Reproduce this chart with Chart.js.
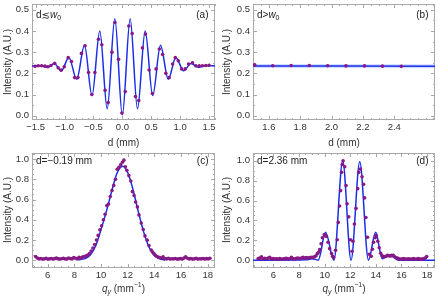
<!DOCTYPE html>
<html>
<head>
<meta charset="utf-8">
<script src="https://cdn.jsdelivr.net/npm/chart.js@4.4.1/dist/chart.umd.min.js"></script>
<style>
  html, body { margin: 0; padding: 0; background: #fff; }
  #wrap { position: relative; width: 439px; height: 299px; }
  canvas { position: absolute; }
</style>
</head>
<body>
<div id="wrap">
  <canvas id="panelA" width="219" height="149" style="left:0;top:0"></canvas>
  <canvas id="panelB" width="220" height="149" style="left:219px;top:0"></canvas>
  <canvas id="panelC" width="219" height="150" style="left:0;top:149px"></canvas>
  <canvas id="panelD" width="220" height="150" style="left:219px;top:149px"></canvas>
</div>
<script>
// --- (a) d <= w0 : intensidad frente a d ---
const aPtsD = [-1.51,-1.454,-1.396,-1.339,-1.29,-1.236,-1.17,-1.11,-1.06,-1.005,-0.937,-0.88,-0.825,-0.768,-0.708,-0.645,-0.585,-0.528,-0.475,-0.413,-0.355,-0.298,-0.245,-0.18,-0.128,-0.065,-0.008,0.05,0.112,0.17,0.227,0.284,0.348,0.399,0.463,0.52,0.583,0.64,0.697,0.752,0.81,0.87,0.916,0.967,1.025,1.088,1.145,1.214,1.271,1.33,1.385,1.444,1.5];
const aPtsI = [0.233,0.236,0.236,0.234,0.231,0.237,0.247,0.226,0.215,0.231,0.274,0.256,0.18,0.18,0.294,0.33,0.204,0.1,0.204,0.361,0.335,0.12,0.062,0.30,0.44,0.266,0.013,0.114,0.423,0.388,0.091,0.072,0.32,0.385,0.216,0.105,0.221,0.315,0.289,0.2,0.18,0.244,0.274,0.259,0.221,0.221,0.244,0.25,0.236,0.235,0.236,0.237,0.238];
const aFitD = [-1.563,-1.42,-1.29,-1.18,-1.055,-0.925,-0.79,-0.655,-0.525,-0.39,-0.262,-0.13,0,0.135,0.262,0.395,0.525,0.66,0.795,0.925,1.06,1.19,1.31,1.44,1.603];
const aFitI = [0.235,0.236,0.229,0.246,0.212,0.275,0.172,0.332,0.095,0.400,0.033,0.458,0.003,0.458,0.033,0.400,0.095,0.332,0.172,0.275,0.212,0.246,0.229,0.236,0.235];

// --- (b) d > w0 ---
const bPtsD = [1.51,1.625,1.742,1.858,1.975,2.092,2.21,2.325,2.445];
const bPtsI = [0.240,0.236,0.237,0.237,0.236,0.235,0.235,0.234,0.233];
const bFitD = [1.499,2.66];
const bFitI = [0.235,0.234];

// --- (c) d = -0.19 mm : intensidad frente a q_y ---
const cPtsQ = [5.10,5.23,5.36,5.49,5.62,5.75,5.88,6.01,6.14,6.27,6.40,6.53,6.66,6.79,6.92,7.05,7.18,7.31,7.44,7.57,7.70,7.83,7.96,8.09,8.22,8.35,8.48,8.61,8.74,8.87,9.0,9.14,9.27,9.40,9.53,9.66,9.79,9.92,10.05,10.18,10.31,10.44,10.57,10.70,10.83,10.96,11.09,11.22,11.35,11.48,11.61,11.72,11.83,11.94,12.09,12.24,12.36,12.48,12.6,12.73,12.85,13.02,13.17,13.3,13.47,13.6,13.77,13.87,13.97,14.07,14.17,14.29,14.41,14.53,14.66,14.79,14.92,15.05,15.18,15.31,15.44,15.57,15.70,15.83,15.96,16.09,16.22,16.35,16.48,16.61,16.74,16.87,17.00,17.13,17.26,17.39,17.52,17.65,17.78,17.91,18.04,18.17];
const cPtsI = [0.035,0.02,0.012,0.015,0.01,0.012,0.018,0.01,0.012,0.016,0.01,0.015,0.02,0.012,0.01,0.014,0.018,0.012,0.01,0.02,0.015,0.012,0.025,0.018,0.012,0.028,0.02,0.03,0.035,0.04,0.05,0.064,0.09,0.12,0.155,0.20,0.245,0.30,0.34,0.40,0.455,0.54,0.555,0.63,0.69,0.74,0.80,0.90,0.92,0.945,0.97,0.99,0.925,0.889,0.837,0.783,0.678,0.64,0.575,0.527,0.448,0.367,0.304,0.24,0.198,0.144,0.10,0.08,0.064,0.05,0.038,0.03,0.026,0.02,0.032,0.015,0.012,0.018,0.01,0.014,0.012,0.016,0.01,0.012,0.015,0.01,0.02,0.032,0.018,0.012,0.015,0.01,0.012,0.018,0.01,0.014,0.012,0.016,0.01,0.015,0.012,0.018];
const cFitQ = [8.3,8.8,9.2,9.6,10.0,10.4,10.8,11.2,11.62,12.0,12.4,12.8,13.2,13.6,14.0,14.4,14.8];
const cFitI = [0.003,0.015,0.05,0.14,0.30,0.48,0.68,0.86,0.93,0.87,0.70,0.48,0.28,0.13,0.045,0.012,0.002];

// --- (d) d = 2.36 mm ---
const dPtsQ = [4.80,4.93,5.06,5.19,5.32,5.45,5.58,5.71,5.84,5.97,6.10,6.23,6.36,6.49,6.62,6.75,6.88,7.01,7.14,7.27,7.40,7.53,7.66,7.79,7.92,8.05,8.18,8.31,8.44,8.57,8.70,8.83,8.96,9.09,9.22,9.32,9.43,9.52,9.61,9.72,9.82,9.97,10.05,10.13,10.26,10.39,10.54,10.62,10.7,10.85,10.98,11.06,11.16,11.24,11.32,11.37,11.44,11.57,11.67,11.75,11.88,12.01,12.14,12.21,12.32,12.45,12.58,12.66,12.79,12.92,13.04,13.12,13.22,13.35,13.48,13.64,13.73,13.82,13.95,14.03,14.15,14.26,14.38,14.5,14.6,14.7,14.8,14.9,15.0,15.1,15.23,15.36,15.46,15.56,15.66,15.76,15.89,16.02,16.15,16.28,16.41,16.54,16.67,16.80,16.93,17.06,17.19,17.32,17.45,17.58,17.71,17.84,17.97];
const dPtsI = [0.015,0.02,0.035,0.01,0.018,0.012,0.02,0.03,0.012,0.015,0.01,0.014,0.012,0.016,0.01,0.012,0.015,0.018,0.012,0.014,0.028,0.015,0.012,0.018,0.02,0.015,0.022,0.03,0.02,0.025,0.022,0.025,0.028,0.03,0.035,0.045,0.066,0.08,0.106,0.165,0.225,0.257,0.25,0.238,0.181,0.116,0.066,0.04,0.027,0.099,0.205,0.38,0.545,0.70,0.884,0.963,1.0,0.94,0.752,0.567,0.436,0.205,0.089,0.191,0.363,0.521,0.72,0.884,0.917,0.84,0.765,0.627,0.429,0.231,0.059,0.04,0.11,0.181,0.225,0.25,0.19,0.125,0.07,0.043,0.035,0.036,0.04,0.05,0.045,0.043,0.048,0.05,0.035,0.026,0.02,0.016,0.012,0.01,0.015,0.012,0.01,0.014,0.012,0.01,0.016,0.012,0.01,0.015,0.012,0.01,0.014,0.02,0.036];
const dFitQ = [4.4,8.6,9.0,9.5,10.07,10.72,11.41,12.06,12.74,13.42,13.98,14.5,14.95,15.35,15.75,18.62];
const dFitI = [0.0,0.005,0.015,0.0,0.28,0.0,1.0,0.0,0.99,0.0,0.28,0.015,0.04,0.035,0.0,0.0];

// --- Marcas de ejes ---
const ticksD_a = [-1.5,-1.0,-0.5,0,0.5,1.0,1.5];
const ticksD_b = [1.6,1.8,2.0,2.2,2.4];
const ticksQ = [6,8,10,12,14,16,18];
const ticksI_ab = [0,0.1,0.2,0.3,0.4,0.5];
const ticksI_cd = [0,0.2,0.4,0.6,0.8,1.0];

const FUENTE = "'Liberation Sans', 'DejaVu Sans', Arial, sans-serif";
const COLOR_TEXTO = '#333';
const COLOR_PUNTO = 'rgb(135,25,135)';
const COLOR_AJUSTE = 'rgb(25,45,235)';

function fuenteDe(estilo) {
    const chica = estilo.includes('sub') || estilo === 'sup';
    const italica = estilo.startsWith('i');
    return (italica ? 'italic ' : '') + (chica ? '7px ' : '10px ') + FUENTE;
}

// texto con partes en cursiva / subindice / superindice
function dibujarTexto(ctx, partes, x, y, align) {
    const anchos = partes.map(([t, e]) => { ctx.font = fuenteDe(e); return ctx.measureText(t).width; });
    const total = anchos.reduce((s, w) => s + w, 0);
    let cx = align === 'center' ? x - total / 2 : (align === 'right' ? x - total : x);
    ctx.textAlign = 'left';
    ctx.textBaseline = 'middle';
    partes.forEach(([t, e], i) => {
        ctx.font = fuenteDe(e);
        let dy = 0;
        if (e.includes('sub')) dy = 3;
        if (e === 'sup') dy = -3.5;
        ctx.fillText(t, cx, y + dy);
        cx += anchos[i];
    });
}

function formatear(v, dec) {
    return Number(v).toFixed(dec).replace('-', '\u2212');
}

function marcasMenores(min, max, paso) {
    const lista = [];
    for (let k = Math.ceil(min / paso - 1e-9); k * paso <= max + 1e-9; k++) lista.push(k * paso);
    return lista;
}

function crearPanel(cfg) {
    const canvas = document.getElementById(cfg.id);
    const puntos = cfg.ptsX.map((v, i) => ({ x: v, y: cfg.ptsY[i] }));
    const ajuste = cfg.fitX.map((v, i) => ({ x: v, y: cfg.fitY[i] }));

    const datasets = [
        { data: puntos, showLine: false, pointRadius: 1.8, pointBackgroundColor: COLOR_PUNTO, pointBorderWidth: 0, order: 0 },
        { data: ajuste, borderColor: COLOR_AJUSTE, borderWidth: 1.5, pointRadius: 0, cubicInterpolationMode: 'monotone', order: 1 }
    ];
    if (cfg.banda) {
        datasets.push({ data: ajuste, borderColor: 'rgba(150,175,255,0.45)', borderWidth: 4, pointRadius: 0, order: 2 });
    }

    const area = cfg.area;
    const fuenteTicks = { family: FUENTE, size: 9.5 };

    // marco gris con marcas hacia adentro en los cuatro lados
    const marco = {
        id: 'marco_' + cfg.id,
        beforeDatasetsDraw(chart) {
            const { ctx, chartArea: a, scales: { x, y } } = chart;
            ctx.save();
            ctx.strokeStyle = '#a9a9a9';
            ctx.lineWidth = 1;
            ctx.strokeRect(a.left + 0.5, a.top + 0.5, a.right - a.left - 1, a.bottom - a.top - 1);
            ctx.beginPath();
            const marcaX = (v, largo) => {
                const px = Math.round(x.getPixelForValue(v)) + 0.5;
                ctx.moveTo(px, a.bottom); ctx.lineTo(px, a.bottom - largo);
                ctx.moveTo(px, a.top); ctx.lineTo(px, a.top + largo);
            };
            const marcaY = (v, largo) => {
                const py = Math.round(y.getPixelForValue(v)) + 0.5;
                ctx.moveTo(a.left, py); ctx.lineTo(a.left + largo, py);
                ctx.moveTo(a.right, py); ctx.lineTo(a.right - largo, py);
            };
            marcasMenores(x.min, x.max, cfg.xMenor).forEach(v => marcaX(v, 2));
            marcasMenores(y.min, y.max, cfg.yMenor).forEach(v => marcaY(v, 2));
            cfg.xTicks.forEach(v => marcaX(v, 4));
            cfg.yTicks.forEach(v => marcaY(v, 4));
            ctx.stroke();
            ctx.restore();
        },
        afterDraw(chart) {
            const { ctx, chartArea: a } = chart;
            ctx.save();
            ctx.fillStyle = COLOR_TEXTO;
            // titulo eje y
            ctx.save();
            ctx.translate(8, cfg.yTituloY);
            ctx.rotate(-Math.PI / 2);
            dibujarTexto(ctx, [['Intensity (A.U.)', '']], 0, 0, 'center');
            ctx.restore();
            // titulo eje x
            dibujarTexto(ctx, cfg.xTitulo, (a.left + a.right) / 2, cfg.xTituloY, 'center');
            // etiquetas del panel
            ctx.fillStyle = '#222';
            dibujarTexto(ctx, cfg.etiqueta, a.left + 4, cfg.etiquetaY, 'left');
            dibujarTexto(ctx, [[cfg.letra, '']], a.right - 6.5, cfg.etiquetaY, 'right');
            ctx.restore();
        }
    };

    return new Chart(canvas.getContext('2d'), {
        type: 'line',
        data: { datasets },
        options: {
            responsive: false,
            animation: false,
            events: [],
            layout: { padding: { top: area.top, right: canvas.width - area.right, left: 0, bottom: 0 } },
            plugins: { legend: { display: false }, tooltip: { enabled: false } },
            scales: {
                x: {
                    type: 'linear', min: cfg.xMin, max: cfg.xMax, bounds: 'data',
                    grid: { display: false, drawTicks: false }, border: { display: false },
                    afterBuildTicks: s => { s.ticks = cfg.xTicks.map(v => ({ value: v })); },
                    afterFit: s => { s.height = canvas.height - area.bottom; s.paddingLeft = 0; s.paddingRight = 0; },
                    ticks: { autoSkip: false, maxRotation: 0, minRotation: 0, padding: 2, color: COLOR_TEXTO, font: fuenteTicks,
                             callback: v => formatear(v, cfg.xDec) }
                },
                y: {
                    type: 'linear', min: cfg.yMin, max: cfg.yMax, bounds: 'data',
                    grid: { display: false, drawTicks: false }, border: { display: false },
                    afterBuildTicks: s => { s.ticks = cfg.yTicks.map(v => ({ value: v })); },
                    afterFit: s => { s.width = area.left; s.paddingTop = 0; s.paddingBottom = 0; },
                    ticks: { autoSkip: false, padding: 3, color: COLOR_TEXTO, font: fuenteTicks,
                             callback: v => formatear(v, 1) }
                }
            }
        },
        plugins: [marco]
    });
}

const tituloD = [['d (mm)', '']];
const tituloQ = [['q', 'i'], ['y', 'isub'], [' (mm', ''], ['\u22121', 'sup'], [')', '']];

crearPanel({
    id: 'panelA', ptsX: aPtsD, ptsY: aPtsI, fitX: aFitD, fitY: aFitI,
    area: { left: 32, top: 1.5, right: 216, bottom: 120 },
    xMin: -1.563, xMax: 1.603, yMin: -0.02, yMax: 0.527,
    xTicks: ticksD_a, yTicks: ticksI_ab, xMenor: 0.1, yMenor: 0.05, xDec: 1,
    xTitulo: tituloD, xTituloY: 143, yTituloY: 62,
    etiqueta: [['d\u2272', ''], ['w', 'i'], ['0', 'sub']], letra: '(a)', etiquetaY: 15
});

crearPanel({
    id: 'panelB', ptsX: bPtsD, ptsY: bPtsI, fitX: bFitD, fitY: bFitI, banda: true,
    area: { left: 34, top: 1.5, right: 218, bottom: 120 },
    xMin: 1.499, xMax: 2.66, yMin: -0.02, yMax: 0.527,
    xTicks: ticksD_b, yTicks: ticksI_ab, xMenor: 0.05, yMenor: 0.05, xDec: 1,
    xTitulo: tituloD, xTituloY: 143, yTituloY: 62,
    etiqueta: [['d>', ''], ['w', 'i'], ['0', 'sub']], letra: '(b)', etiquetaY: 15
});

crearPanel({
    id: 'panelC', ptsX: cPtsQ, ptsY: cPtsI, fitX: cFitQ, fitY: cFitI,
    area: { left: 32, top: 2, right: 216.5, bottom: 119 },
    xMin: 4.83, xMax: 18.55, yMin: -0.078, yMax: 1.061,
    xTicks: ticksQ, yTicks: ticksI_cd, xMenor: 0.5, yMenor: 0.05, xDec: 0,
    xTitulo: tituloQ, xTituloY: 140, yTituloY: 61,
    etiqueta: [['d=\u22120.19 mm', '']], letra: '(c)', etiquetaY: 12.7
});

crearPanel({
    id: 'panelD', ptsX: dPtsQ, ptsY: dPtsI, fitX: dFitQ, fitY: dFitI,
    area: { left: 34, top: 2, right: 218, bottom: 119 },
    xMin: 4.4, xMax: 18.62, yMin: -0.079, yMax: 1.079,
    xTicks: ticksQ, yTicks: ticksI_cd, xMenor: 0.5, yMenor: 0.05, xDec: 0,
    xTitulo: tituloQ, xTituloY: 140, yTituloY: 61,
    etiqueta: [['d=2.36 mm', '']], letra: '(d)', etiquetaY: 12.7
});
</script>
</body>
</html>
